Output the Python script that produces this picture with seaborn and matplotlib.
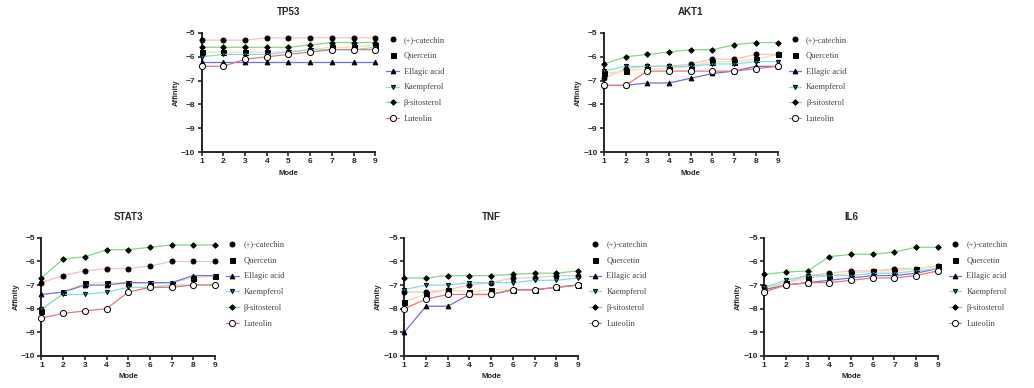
import numpy as np
import pandas as pd
import seaborn as sns
import matplotlib.pyplot as plt
from matplotlib.lines import Line2D

modes = [1, 2, 3, 4, 5, 6, 7, 8, 9]
compounds = ["(+)-catechin", "Quercetin", "Ellagic acid", "Kaempferol", "β-sitosterol", "Luteolin"]
targets = ["TP53", "AKT1", "STAT3", "TNF", "IL6"]

tp53 = {
    "(+)-catechin": [-5.3, -5.3, -5.3, -5.2, -5.2, -5.2, -5.2, -5.2, -5.2],
    "Quercetin": [-5.8, -5.8, -5.8, -5.8, -5.8, -5.7, -5.6, -5.6, -5.5],
    "Ellagic acid": [-6.2, -6.2, -6.2, -6.2, -6.2, -6.2, -6.2, -6.2, -6.2],
    "Kaempferol": [-6.0, -5.9, -5.9, -5.9, -5.8, -5.7, -5.7, -5.7, -5.6],
    "β-sitosterol": [-5.6, -5.6, -5.6, -5.6, -5.6, -5.5, -5.4, -5.4, -5.4],
    "Luteolin": [-6.4, -6.4, -6.1, -6.0, -5.9, -5.8, -5.7, -5.7, -5.7],
}
akt1 = {
    "(+)-catechin": [-6.9, -6.5, -6.4, -6.4, -6.3, -6.1, -6.1, -5.9, -5.9],
    "Quercetin": [-6.7, -6.6, -6.5, -6.5, -6.4, -6.2, -6.2, -6.1, -5.9],
    "Ellagic acid": [-7.2, -7.2, -7.1, -7.1, -6.9, -6.7, -6.6, -6.4, -6.4],
    "Kaempferol": [-6.6, -6.4, -6.4, -6.4, -6.4, -6.3, -6.3, -6.2, -6.2],
    "β-sitosterol": [-6.3, -6.0, -5.9, -5.8, -5.7, -5.7, -5.5, -5.4, -5.4],
    "Luteolin": [-7.2, -7.2, -6.6, -6.6, -6.6, -6.6, -6.6, -6.5, -6.4],
}
stat3 = {
    "(+)-catechin": [-6.9, -6.6, -6.4, -6.3, -6.3, -6.2, -6.0, -6.0, -6.0],
    "Quercetin": [-8.1, -7.3, -6.9, -6.9, -6.9, -6.9, -6.9, -6.7, -6.6],
    "Ellagic acid": [-7.4, -7.3, -7.0, -7.0, -6.9, -6.9, -6.9, -6.6, -6.6],
    "Kaempferol": [-8.0, -7.4, -7.4, -7.3, -7.1, -7.1, -7.0, -7.0, -7.0],
    "β-sitosterol": [-6.7, -5.9, -5.8, -5.5, -5.5, -5.4, -5.3, -5.3, -5.3],
    "Luteolin": [-8.4, -8.2, -8.1, -8.0, -7.3, -7.1, -7.1, -7.0, -7.0],
}
tnf = {
    "(+)-catechin": [-7.3, -7.3, -7.2, -7.0, -6.9, -6.7, -6.7, -6.6, -6.6],
    "Quercetin": [-7.7, -7.4, -7.2, -7.3, -7.2, -7.2, -7.2, -7.1, -7.0],
    "Ellagic acid": [-9.0, -7.9, -7.9, -7.4, -7.4, -7.2, -7.2, -7.1, -7.0],
    "Kaempferol": [-7.2, -7.0, -7.0, -6.9, -6.9, -6.9, -6.8, -6.8, -6.7],
    "β-sitosterol": [-6.7, -6.7, -6.6, -6.6, -6.6, -6.55, -6.5, -6.5, -6.4],
    "Luteolin": [-8.0, -7.6, -7.4, -7.4, -7.4, -7.2, -7.2, -7.1, -7.0],
}
il6 = {
    "(+)-catechin": [-7.1, -6.9, -6.6, -6.5, -6.4, -6.4, -6.3, -6.3, -6.2],
    "Quercetin": [-7.2, -6.9, -6.7, -6.6, -6.5, -6.4, -6.4, -6.3, -6.2],
    "Ellagic acid": [-7.2, -7.0, -6.9, -6.8, -6.7, -6.6, -6.6, -6.5, -6.3],
    "Kaempferol": [-7.1, -6.8, -6.6, -6.6, -6.6, -6.5, -6.5, -6.4, -6.3],
    "β-sitosterol": [-6.55, -6.45, -6.4, -5.8, -5.7, -5.7, -5.6, -5.4, -5.4],
    "Luteolin": [-7.3, -7.0, -6.9, -6.9, -6.8, -6.7, -6.7, -6.6, -6.4],
}
panel_data = [tp53, akt1, stat3, tnf, il6]

line_colors = ["#f2c4c4", "#f3dcb0", "#6f6fd6", "#7fdede", "#85d685", "#e07a7a"]
markers = ["o", "s", "^", "v", "D", "o"]
marker_faces = ["black", "black", "black", "#2a6f6f", "black", "white"]
marker_sizes = [3.6, 3.6, 3.4, 3.0, 2.8, 4.4]

sns.set_style("ticks")
plt.rcParams["font.family"] = ["Liberation Sans", "DejaVu Sans"]

fig = plt.figure(figsize=(10.34, 3.88), dpi=100)
positions = [
    [0.195, 0.608, 0.168, 0.307],
    [0.584, 0.608, 0.168, 0.307],
    [0.040, 0.083, 0.168, 0.304],
    [0.391, 0.083, 0.168, 0.304],
    [0.739, 0.083, 0.168, 0.304],
]

for target, data, pos in zip(targets, panel_data, positions):
    ax = fig.add_axes(pos)
    rows = []
    for c in compounds:
        for m, v in zip(modes, data[c]):
            rows.append({"Mode": m, "Affinity": v, "Compound": c})
    df = pd.DataFrame(rows)
    for i, c in enumerate(compounds):
        sub = df[df["Compound"] == c]
        sns.lineplot(
            data=sub, x="Mode", y="Affinity", ax=ax,
            color=line_colors[i], linewidth=0.9,
            marker=markers[i], markersize=marker_sizes[i],
            markerfacecolor=marker_faces[i], markeredgecolor="black",
            markeredgewidth=0.7, clip_on=False, zorder=3 + i,
        )
    ax.set_xlim(1, 9)
    ax.set_ylim(-10, -5)
    ax.set_xticks(modes)
    ax.set_yticks([-5, -6, -7, -8, -9, -10])
    ax.tick_params(labelsize=6, width=1.2, length=3, pad=1.5)
    for lab in ax.get_xticklabels() + ax.get_yticklabels():
        lab.set_fontweight("bold")
    for s in ["left", "bottom"]:
        ax.spines[s].set_linewidth(1.4)
    sns.despine(ax=ax)
    ax.set_title(target, fontsize=7, fontweight="bold", pad=13)
    ax.set_xlabel("Mode", fontsize=5.5, fontweight="bold", labelpad=3)
    ax.set_ylabel("Affinity", fontsize=5.5, fontweight="bold", labelpad=1)

    handles = []
    for i, c in enumerate(compounds):
        lc = line_colors[i] if i >= 2 else "none"
        handles.append(Line2D([0], [0], color=lc, linewidth=0.9,
                              marker=markers[i], markersize=marker_sizes[i],
                              markerfacecolor=marker_faces[i],
                              markeredgecolor="black", markeredgewidth=0.7))
    ax.legend(handles, compounds, loc="upper left", bbox_to_anchor=(1.02, 1.04),
              frameon=False, handlelength=1.5, handletextpad=0.6,
              labelspacing=0.95, prop={"family": "Liberation Serif", "size": 6},
              labelcolor="#444444")

fig.savefig("out.png", dpi=100)
